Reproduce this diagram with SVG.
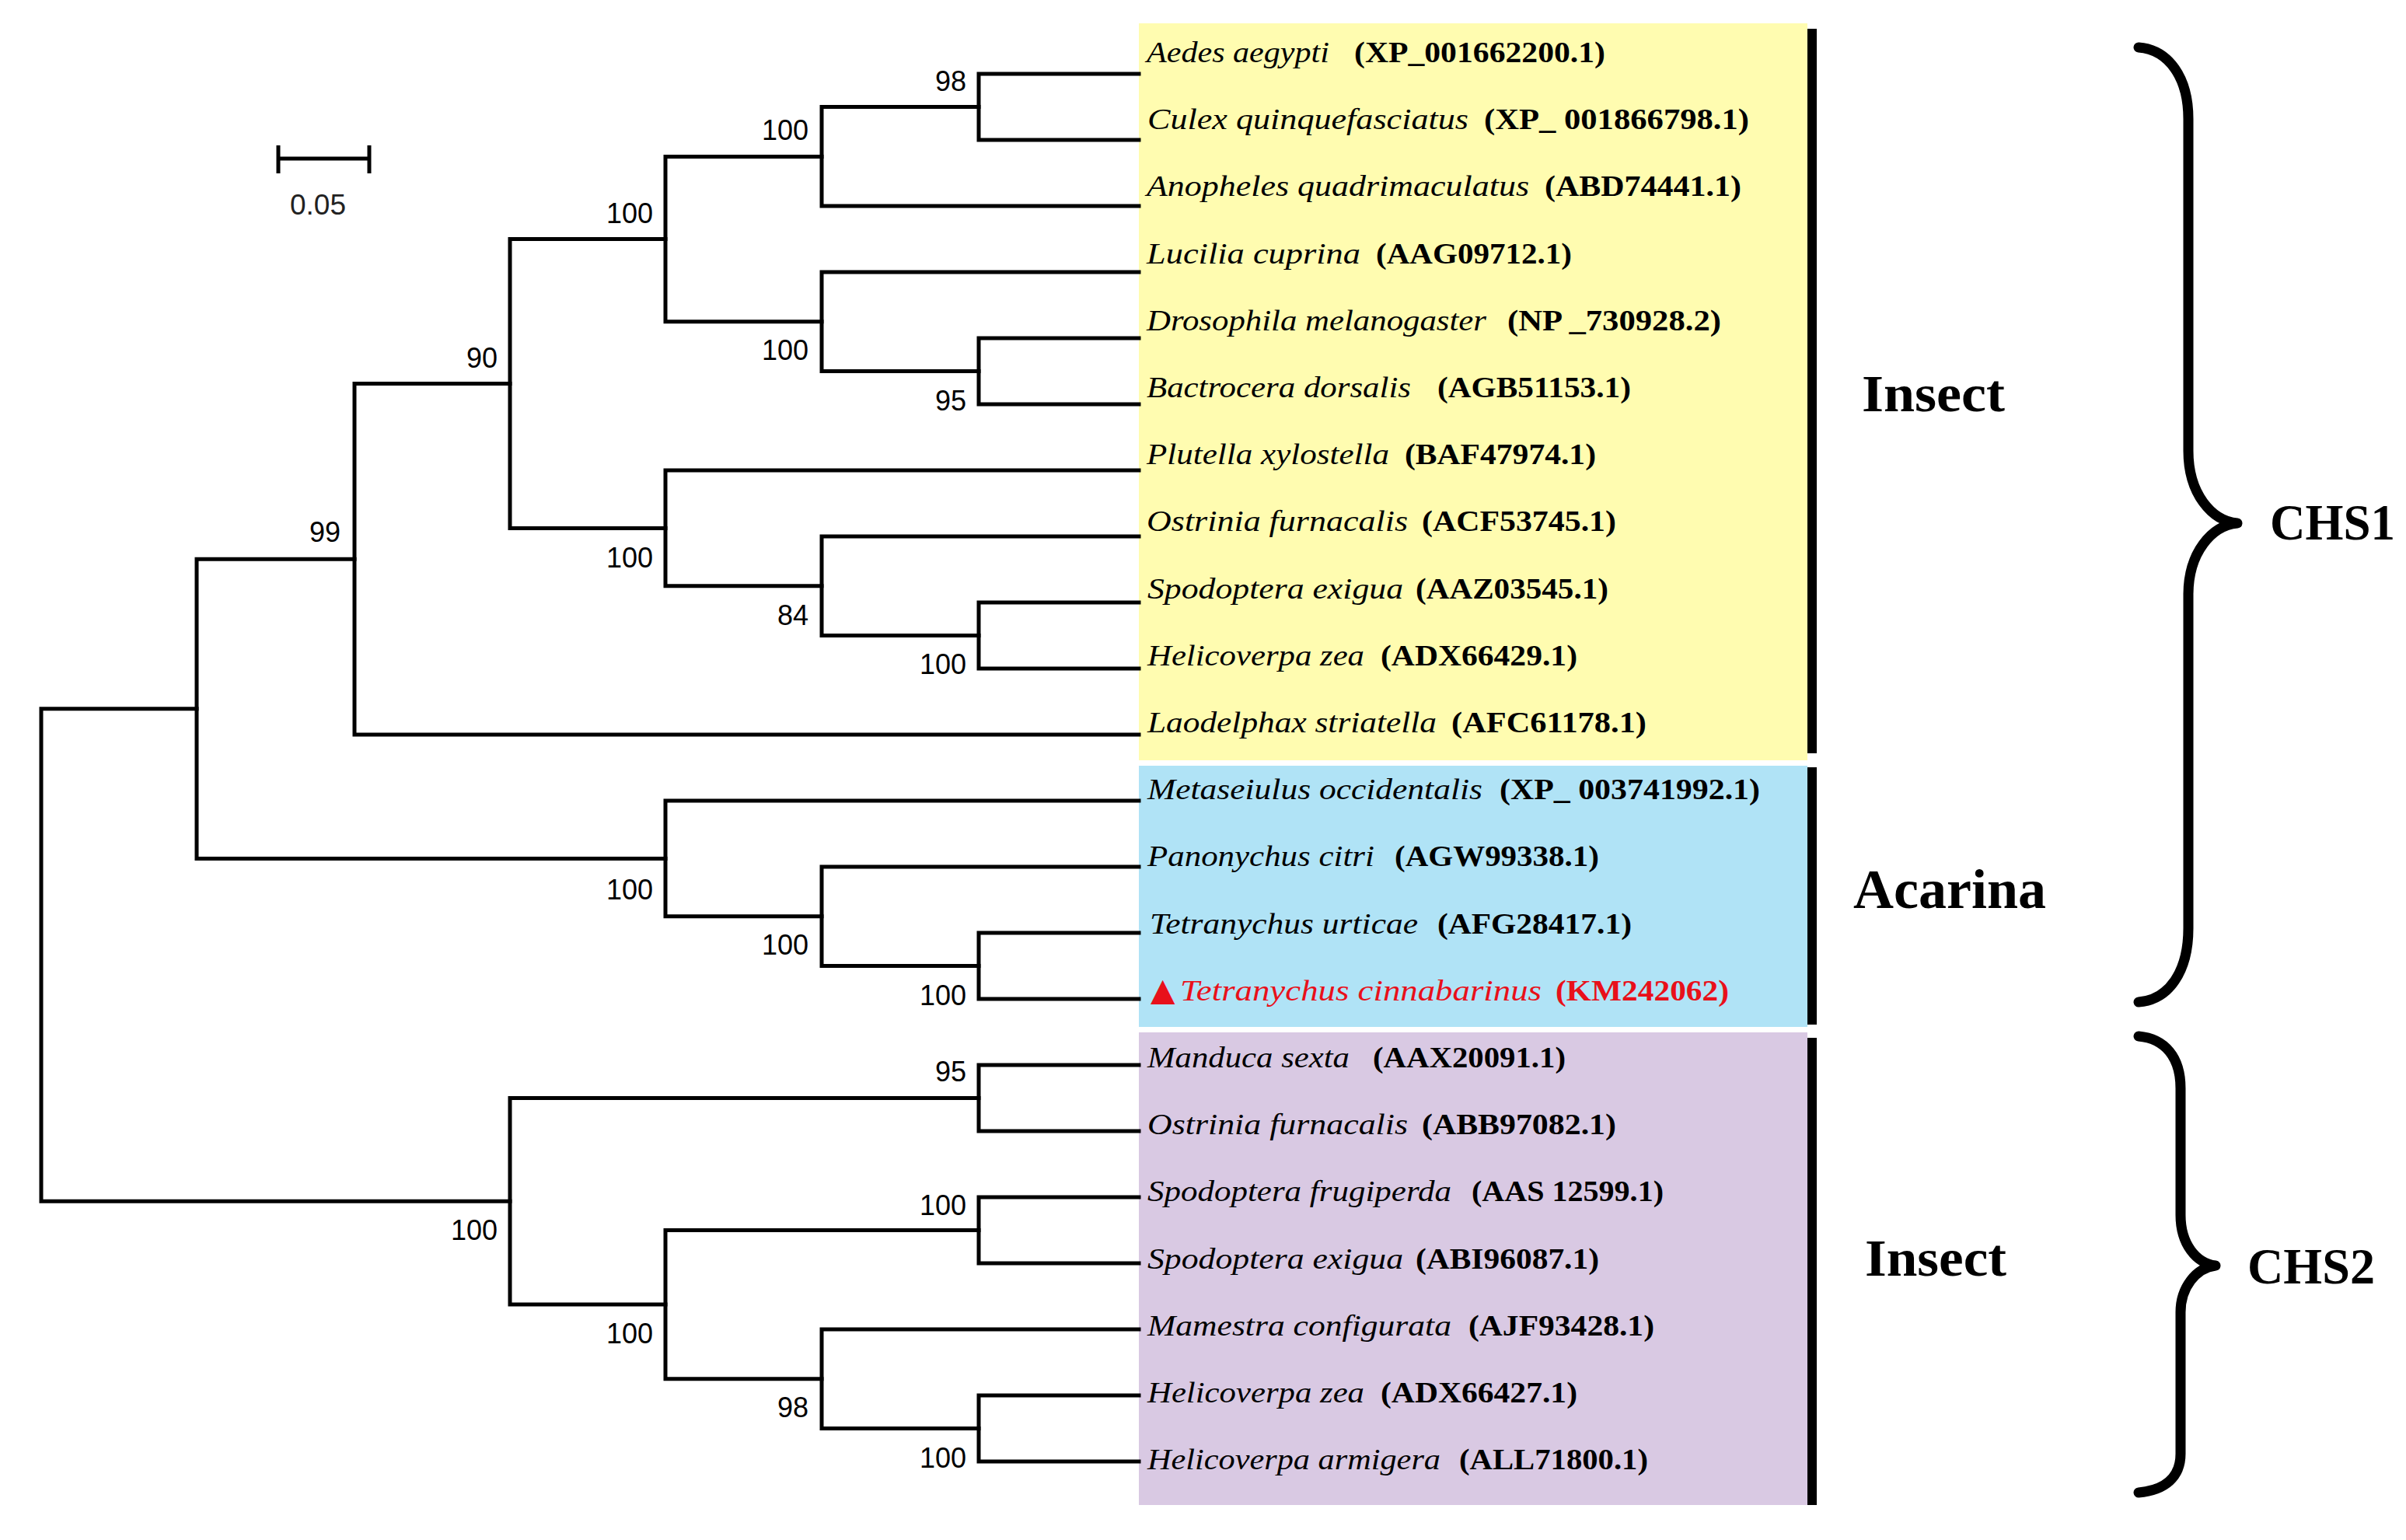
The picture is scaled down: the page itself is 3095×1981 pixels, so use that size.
<svg xmlns="http://www.w3.org/2000/svg" width="3095" height="1981" viewBox="0 0 3095 1981">
<style>
.bg{fill:#ffffff}
.tree path{fill:none;stroke:#000;stroke-width:5;stroke-linejoin:miter;stroke-linecap:square}
.lab{font-family:"Liberation Serif","Times New Roman",serif;font-size:38px;fill:#000}
.sp{font-style:italic}
.acc{font-weight:bold}
.red{fill:#e8101a}
.bs{font-family:"Liberation Sans",Arial,sans-serif;font-size:36px;text-anchor:end;fill:#000}
.grp{font-family:"Liberation Serif","Times New Roman",serif;font-weight:bold;fill:#000}
.bar{fill:#000}
.brace{fill:none;stroke:#000;stroke-width:13;stroke-linecap:round;stroke-linejoin:round}
</style>
<rect class="bg" x="0" y="0" width="3095" height="1981"/>

<g id="boxes">
<rect x="1465" y="30" width="860" height="948" fill="#fffcb0"/>
<rect x="1465" y="985" width="860" height="336" fill="#b0e3f6"/>
<rect x="1465" y="1328" width="860" height="608" fill="#d9c9e3"/>
<rect class="bar" x="2325" y="37" width="12" height="932"/>
<rect class="bar" x="2325" y="987" width="12" height="331"/>
<rect class="bar" x="2325" y="1335" width="12" height="601"/>
</g>

<g id="scalebar">
<path d="M358,204 H475 M358,187 V223 M475,187 V223" fill="none" stroke="#000" stroke-width="5"/>
<text x="409" y="276" font-family="'Liberation Sans',Arial,sans-serif" font-size="37" text-anchor="middle" fill="#222">0.05</text>
</g>

<g id="connectors" class="tree">
<path d="M1465,95 H1259 V180 H1465"/>
<path d="M1259,137.5 H1057 V265 H1465"/>
<path d="M1465,435 H1259 V520 H1465"/>
<path d="M1465,350 H1057 V477.5 H1259"/>
<path d="M1057,201.5 H856 V413.75 H1057"/>
<path d="M1465,775 H1259 V860 H1465"/>
<path d="M1465,690 H1057 V817.5 H1259"/>
<path d="M1465,605 H856 V753.75 H1057"/>
<path d="M856,307.6 H656 V679.4 H856"/>
<path d="M656,493.5 H456 V945 H1465"/>
<path d="M1465,1200 H1259 V1285 H1465"/>
<path d="M1465,1115 H1057 V1242.5 H1259"/>
<path d="M1465,1030 H856 V1178.75 H1057"/>
<path d="M456,719.25 H253 V1104.4 H856"/>
<path d="M1465,1370 H1259 V1455 H1465"/>
<path d="M1465,1540 H1259 V1625 H1465"/>
<path d="M1465,1795 H1259 V1880 H1465"/>
<path d="M1465,1710 H1057 V1837.5 H1259"/>
<path d="M1259,1582.5 H856 V1773.75 H1057"/>
<path d="M1259,1412.5 H656 V1678.1 H856"/>
<path d="M253,911.8 H53 V1545.3 H656"/>
</g>

<g id="bootstrap">
<text class="bs" x="1243" y="117">98</text>
<text class="bs" x="1040" y="180">100</text>
<text class="bs" x="840" y="287">100</text>
<text class="bs" x="1040" y="463">100</text>
<text class="bs" x="1243" y="528">95</text>
<text class="bs" x="640" y="473">90</text>
<text class="bs" x="840" y="730">100</text>
<text class="bs" x="1040" y="804">84</text>
<text class="bs" x="1243" y="867">100</text>
<text class="bs" x="438" y="697">99</text>
<text class="bs" x="840" y="1157">100</text>
<text class="bs" x="1040" y="1228">100</text>
<text class="bs" x="1243" y="1293">100</text>
<text class="bs" x="1243" y="1391">95</text>
<text class="bs" x="1243" y="1563">100</text>
<text class="bs" x="640" y="1595">100</text>
<text class="bs" x="840" y="1728">100</text>
<text class="bs" x="1040" y="1823">98</text>
<text class="bs" x="1243" y="1888">100</text>
</g>

<g id="taxa">
<g id="t01"><text class="lab" y="80"><tspan class="sp" x="1475" textLength="235" lengthAdjust="spacingAndGlyphs">Aedes aegypti</tspan><tspan class="acc" x="1742" textLength="323" lengthAdjust="spacingAndGlyphs">(XP_001662200.1)</tspan></text></g>
<g id="t02"><text class="lab" y="166.2"><tspan class="sp" x="1476" textLength="413" lengthAdjust="spacingAndGlyphs">Culex quinquefasciatus</tspan><tspan class="acc" x="1909" textLength="341" lengthAdjust="spacingAndGlyphs">(XP_ 001866798.1)</tspan></text></g>
<g id="t03"><text class="lab" y="252.4"><tspan class="sp" x="1475" textLength="492" lengthAdjust="spacingAndGlyphs">Anopheles quadrimaculatus</tspan><tspan class="acc" x="1987" textLength="253" lengthAdjust="spacingAndGlyphs">(ABD74441.1)</tspan></text></g>
<g id="t04"><text class="lab" y="338.6"><tspan class="sp" x="1475" textLength="275" lengthAdjust="spacingAndGlyphs">Lucilia cuprina</tspan><tspan class="acc" x="1770" textLength="252" lengthAdjust="spacingAndGlyphs">(AAG09712.1)</tspan></text></g>
<g id="t05"><text class="lab" y="424.8"><tspan class="sp" x="1475" textLength="437" lengthAdjust="spacingAndGlyphs">Drosophila melanogaster</tspan><tspan class="acc" x="1939" textLength="275" lengthAdjust="spacingAndGlyphs">(NP _730928.2)</tspan></text></g>
<g id="t06"><text class="lab" y="511"><tspan class="sp" x="1475" textLength="340" lengthAdjust="spacingAndGlyphs">Bactrocera dorsalis</tspan><tspan class="acc" x="1849" textLength="249" lengthAdjust="spacingAndGlyphs">(AGB51153.1)</tspan></text></g>
<g id="t07"><text class="lab" y="597.2"><tspan class="sp" x="1475" textLength="312" lengthAdjust="spacingAndGlyphs">Plutella xylostella</tspan><tspan class="acc" x="1807" textLength="246" lengthAdjust="spacingAndGlyphs">(BAF47974.1)</tspan></text></g>
<g id="t08"><text class="lab" y="683.4"><tspan class="sp" x="1475" textLength="336" lengthAdjust="spacingAndGlyphs">Ostrinia furnacalis</tspan><tspan class="acc" x="1829" textLength="250" lengthAdjust="spacingAndGlyphs">(ACF53745.1)</tspan></text></g>
<g id="t09"><text class="lab" y="769.6"><tspan class="sp" x="1476" textLength="329" lengthAdjust="spacingAndGlyphs">Spodoptera exigua</tspan><tspan class="acc" x="1821" textLength="248" lengthAdjust="spacingAndGlyphs">(AAZ03545.1)</tspan></text></g>
<g id="t10"><text class="lab" y="855.8"><tspan class="sp" x="1476" textLength="279" lengthAdjust="spacingAndGlyphs">Helicoverpa zea</tspan><tspan class="acc" x="1776" textLength="253" lengthAdjust="spacingAndGlyphs">(ADX66429.1)</tspan></text></g>
<g id="t11"><text class="lab" y="942"><tspan class="sp" x="1476" textLength="372" lengthAdjust="spacingAndGlyphs">Laodelphax striatella</tspan><tspan class="acc" x="1867" textLength="251" lengthAdjust="spacingAndGlyphs">(AFC61178.1)</tspan></text></g>
<g id="t12"><text class="lab" y="1028.2"><tspan class="sp" x="1476" textLength="431" lengthAdjust="spacingAndGlyphs">Metaseiulus occidentalis</tspan><tspan class="acc" x="1929" textLength="335" lengthAdjust="spacingAndGlyphs">(XP_ 003741992.1)</tspan></text></g>
<g id="t13"><text class="lab" y="1114.4"><tspan class="sp" x="1476" textLength="292" lengthAdjust="spacingAndGlyphs">Panonychus citri</tspan><tspan class="acc" x="1794" textLength="263" lengthAdjust="spacingAndGlyphs">(AGW99338.1)</tspan></text></g>
<g id="t14"><text class="lab" y="1200.6"><tspan class="sp" x="1479" textLength="345" lengthAdjust="spacingAndGlyphs">Tetranychus urticae</tspan><tspan class="acc" x="1849" textLength="250" lengthAdjust="spacingAndGlyphs">(AFG28417.1)</tspan></text></g>
<g id="t15"><text class="lab red" y="1286.8"><tspan x="1480" font-family="'DejaVu Sans',sans-serif" font-size="41">▲</tspan><tspan class="sp" x="1518" textLength="465" lengthAdjust="spacingAndGlyphs">Tetranychus cinnabarinus</tspan><tspan class="acc" x="2001" textLength="223" lengthAdjust="spacingAndGlyphs">(KM242062)</tspan></text></g>
<g id="t16"><text class="lab" y="1373"><tspan class="sp" x="1476" textLength="260" lengthAdjust="spacingAndGlyphs">Manduca sexta</tspan><tspan class="acc" x="1766" textLength="248" lengthAdjust="spacingAndGlyphs">(AAX20091.1)</tspan></text></g>
<g id="t17"><text class="lab" y="1459.2"><tspan class="sp" x="1476" textLength="335" lengthAdjust="spacingAndGlyphs">Ostrinia furnacalis</tspan><tspan class="acc" x="1829" textLength="250" lengthAdjust="spacingAndGlyphs">(ABB97082.1)</tspan></text></g>
<g id="t18"><text class="lab" y="1545.4"><tspan class="sp" x="1476" textLength="391" lengthAdjust="spacingAndGlyphs">Spodoptera frugiperda</tspan><tspan class="acc" x="1893" textLength="247" lengthAdjust="spacingAndGlyphs">(AAS 12599.1)</tspan></text></g>
<g id="t19"><text class="lab" y="1631.6"><tspan class="sp" x="1476" textLength="329" lengthAdjust="spacingAndGlyphs">Spodoptera exigua</tspan><tspan class="acc" x="1821" textLength="236" lengthAdjust="spacingAndGlyphs">(ABI96087.1)</tspan></text></g>
<g id="t20"><text class="lab" y="1717.8"><tspan class="sp" x="1476" textLength="391" lengthAdjust="spacingAndGlyphs">Mamestra configurata</tspan><tspan class="acc" x="1889" textLength="239" lengthAdjust="spacingAndGlyphs">(AJF93428.1)</tspan></text></g>
<g id="t21"><text class="lab" y="1804"><tspan class="sp" x="1476" textLength="279" lengthAdjust="spacingAndGlyphs">Helicoverpa zea</tspan><tspan class="acc" x="1776" textLength="253" lengthAdjust="spacingAndGlyphs">(ADX66427.1)</tspan></text></g>
<g id="t22"><text class="lab" y="1890.2"><tspan class="sp" x="1476" textLength="377" lengthAdjust="spacingAndGlyphs">Helicoverpa armigera</tspan><tspan class="acc" x="1877" textLength="243" lengthAdjust="spacingAndGlyphs">(ALL71800.1)</tspan></text></g>
</g>

<g id="groups">
<g id="g-insect1"><text class="grp" x="2395" y="529" font-size="68" textLength="184" lengthAdjust="spacingAndGlyphs">Insect</text></g>
<g id="g-acarina"><text class="grp" x="2384" y="1168" font-size="72" textLength="248" lengthAdjust="spacingAndGlyphs">Acarina</text></g>
<g id="g-insect2"><text class="grp" x="2399" y="1641" font-size="68" textLength="182" lengthAdjust="spacingAndGlyphs">Insect</text></g>
</g>

<g id="braces">
<g id="chs1">
<path class="brace" d="M2751,61 C2790,64 2815,100 2815,153 L2815,580 C2815,635 2845,670 2878,673 C2845,676 2815,711 2815,765 L2815,1194 C2815,1250 2790,1286 2751,1289"/>
<text class="grp" x="2920" y="694" font-size="66" textLength="161" lengthAdjust="spacingAndGlyphs">CHS1</text>
</g>
<g id="chs2">
<path class="brace" d="M2751,1333 C2785,1336 2805,1360 2805,1400 L2805,1563 C2805,1600 2825,1625 2850,1628 C2825,1631 2805,1656 2805,1688 L2805,1870 C2805,1900 2785,1917 2751,1920"/>
<text class="grp" x="2891" y="1651" font-size="66" textLength="164" lengthAdjust="spacingAndGlyphs">CHS2</text>
</g>
</g>
</svg>
